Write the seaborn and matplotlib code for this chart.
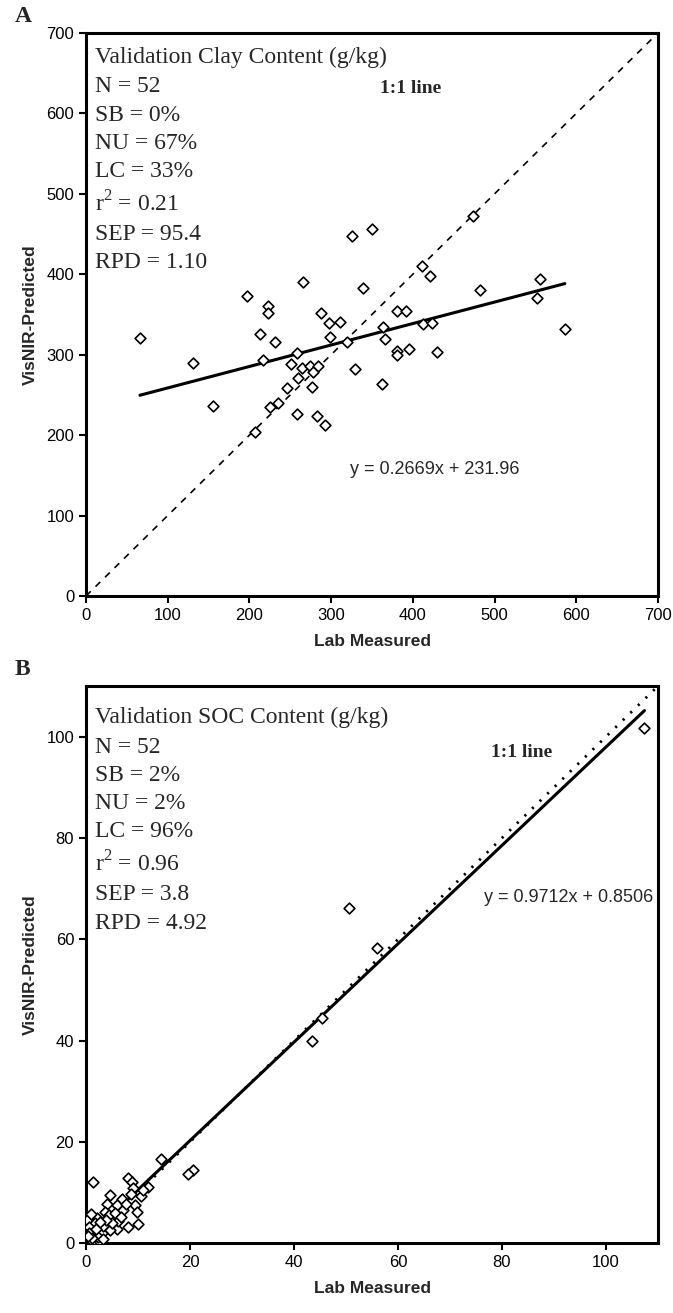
import matplotlib
matplotlib.use("Agg")
import matplotlib.pyplot as plt
import numpy as np
import pandas as pd
import seaborn as sns

# Panel A: clay content (g/kg), lab measured vs VisNIR predicted
clay_lab = [66, 131, 156, 197, 213, 223, 223, 231, 216, 266, 258, 251, 264, 274, 284,
            278, 260, 246, 276, 235, 225, 207, 258, 283, 293, 288, 297, 311, 299, 319,
            329, 325, 350, 339, 473, 411, 421, 482, 556, 552, 586, 380, 392, 364, 366,
            413, 423, 380, 380, 395, 429, 362]
clay_pred = [321, 290, 236, 373, 326, 360, 352, 316, 294, 390, 302, 289, 283, 286, 286,
             279, 271, 258, 260, 240, 235, 204, 226, 224, 213, 352, 339, 341, 322, 316,
             282, 448, 456, 383, 473, 410, 398, 381, 394, 371, 332, 354, 354, 335, 319,
             338, 340, 304, 300, 307, 303, 263]
clay_fit = (0.2669, 231.96)
clay_stats = ["Validation Clay Content (g/kg)", "N = 52", "SB = 0%", "NU = 67%",
              "LC = 33%", "r$^2$ = 0.21", "SEP = 95.4", "RPD = 1.10"]

# Panel B: SOC content (g/kg)
soc_lab = [107.4, 56.0, 50.6, 45.4, 43.5, 20.6, 19.6, 14.5,
           1.4, 8.0, 8.8, 9.1, 12.0, 10.6, 4.6, 4.1, 7.0, 6.0, 9.4, 9.8, 10.0, 8.0,
           5.9, 6.1, 4.7, 3.6, 2.2, 1.7, 0.2, 0.6, 0.6, 3.0, 1.4, 2.7, 2.4, 0.8,
           5.0, 1.2, 3.2, 2.0, 4.5, 7.2, 5.5, 3.8, 0.4, 1.0, 6.8, 2.6, 8.6, 11.0,
           7.6, 3.2]
soc_pred = [101.8, 58.3, 66.2, 44.4, 40.0, 14.4, 13.7, 16.6,
            12.0, 12.8, 12.0, 11.0, 11.2, 9.4, 9.6, 7.8, 8.7, 7.5, 7.5, 6.2, 3.9, 3.2,
            2.8, 4.4, 2.7, 6.1, 5.0, 4.0, 4.6, 3.2, 2.0, 2.0, 0.3, 0.2, 1.3, 0.8,
            4.1, 1.0, 3.5, 2.8, 5.5, 6.5, 6.0, 4.5, 1.5, 5.8, 5.2, 4.2, 9.8, 10.5,
            7.8, 0.9]
soc_fit = (0.9712, 0.8506)
soc_stats = ["Validation SOC Content (g/kg)", "N = 52", "SB = 2%", "NU = 2%",
             "LC = 96%", "r$^2$ = 0.96", "SEP = 3.8", "RPD = 4.92"]

sns.set_theme(style="ticks")
plt.rcParams["font.family"] = ["Liberation Sans", "DejaVu Sans"]
plt.rcParams["mathtext.fontset"] = "custom"
plt.rcParams["mathtext.rm"] = "Liberation Serif"

serif = "Liberation Serif"

fig = plt.figure(figsize=(6.73, 13.13), dpi=100)
ax_a = fig.add_axes([0.1278, 0.5461, 0.8499, 0.4288])
ax_b = fig.add_axes([0.1278, 0.0531, 0.8499, 0.4244])


def draw_panel(ax, lab, pred, fit, stats, lim, ticks, one_style, stats_top, eq_pos, eq_ha,
               oneone_pos, letter):
    df = pd.DataFrame({"lab": lab, "pred": pred})
    sns.scatterplot(data=df, x="lab", y="pred", ax=ax, marker="D", s=30,
                    facecolor="white", edgecolor="black", linewidth=1.2, zorder=3)
    # 1:1 line
    ref = np.array([0, lim])
    sns.lineplot(x=ref, y=ref, ax=ax, color="black", zorder=2, **one_style)
    # fitted line
    xs = np.array([min(lab), max(lab)])
    sns.lineplot(x=xs, y=fit[0] * xs + fit[1], ax=ax, color="black", linewidth=2.2, zorder=2)

    ax.set_xlim(0, lim)
    ax.set_ylim(0, lim)
    ax.set_xticks(ticks)
    ax.set_yticks(ticks)
    ax.tick_params(labelsize=12, length=5, width=1.5, direction="out", colors="black")
    for s in ax.spines.values():
        s.set_linewidth(2.2)
        s.set_color("black")
    ax.set_xlabel("Lab Measured", fontsize=12.5, fontweight="bold", labelpad=8)
    ax.set_ylabel("VisNIR-Predicted", fontsize=12.5, fontweight="bold", labelpad=6)

    # title line, then the statistics block one line lower
    ax.text(0.015, stats_top, stats[0], transform=ax.transAxes, ha="left", va="top",
            fontsize=17, family=serif)
    ax.annotate("\n".join(stats[1:]), xy=(0.015, stats_top), xycoords="axes fraction",
                xytext=(0, -21.5), textcoords="offset points", ha="left", va="top",
                fontsize=17, family=serif, linespacing=1.456)
    ax.text(oneone_pos[0], oneone_pos[1], "1:1 line", transform=ax.transAxes, ha="center",
            va="center", fontsize=14, family=serif, fontweight="bold")
    ax.text(eq_pos[0], eq_pos[1], "y = %.4fx + %s" % (fit[0], ("%.4f" % fit[1]).rstrip("0")),
            transform=ax.transAxes, ha=eq_ha, va="center", fontsize=13)
    ax.text(-0.125, 1.03, letter, transform=ax.transAxes, ha="left", va="center",
            fontsize=17, family=serif, fontweight="bold")


draw_panel(ax_a, clay_lab, clay_pred, clay_fit, clay_stats, 700, range(0, 701, 100),
           dict(linewidth=1.2, linestyle=(0, (4, 4))), 0.976, (0.609, 0.224), "center",
           (0.568, 0.902), "A")
draw_panel(ax_b, soc_lab, soc_pred, soc_fit, soc_stats, 110, range(0, 101, 20),
           dict(linewidth=2.0, linestyle=(0, (0.8, 3))), 0.963, (0.991, 0.621), "right",
           (0.762, 0.88), "B")

fig.savefig("out.png", dpi=100)
